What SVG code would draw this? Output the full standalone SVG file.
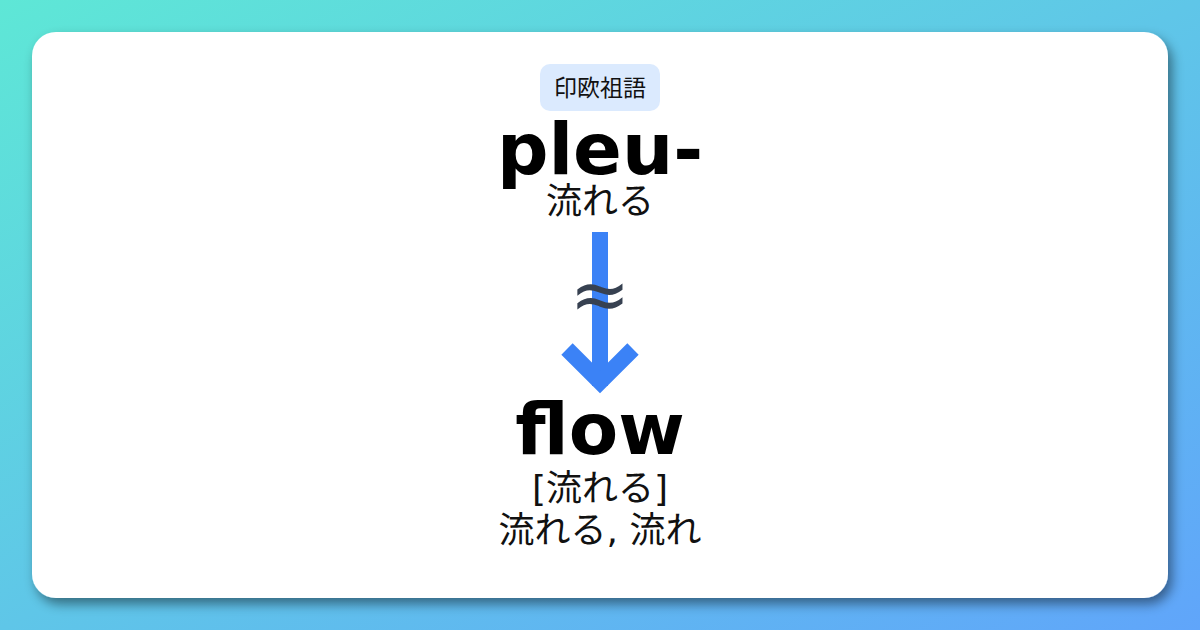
<svg xmlns="http://www.w3.org/2000/svg" width="1200" height="630" viewBox="0 0 1200 630">
<defs>
<linearGradient id="bg" x1="0" y1="0" x2="1" y2="1">
<stop offset="0" stop-color="#5ee7d6"/>
<stop offset="1" stop-color="#60a5fa"/>
</linearGradient>
<filter id="sh" x="-10%" y="-10%" width="120%" height="130%">
<feDropShadow dx="4" dy="6" stdDeviation="6" flood-color="#000" flood-opacity="0.45"/>
</filter>
<style>
.word{font-family:"DejaVu Sans",sans-serif;font-weight:bold;font-size:72px;fill:#000;text-anchor:middle}
.jp{font-family:"DejaVu Sans","Noto Sans CJK JP",sans-serif;fill:#111;text-anchor:middle}
</style>
</defs>
<rect width="1200" height="630" fill="url(#bg)"/>
<rect x="32" y="32" width="1136" height="566" rx="24" fill="#fff" filter="url(#sh)"/>
<g id="badge">
<rect x="540" y="64" width="120" height="47" rx="10" fill="#dbeafe"/>
<text class="jp" x="600" y="96" font-size="23">印欧祖語</text>
</g>
<g id="source">
<text class="word" x="600" y="174">pleu-</text>
<text class="jp" x="600" y="214" font-size="36">流れる</text>
</g>
<g id="connectors">
<line x1="600" y1="232" x2="600" y2="386" stroke="#3b82f6" stroke-width="16"/>
<polyline points="567,349 600,382 633,349" fill="none" stroke="#3b82f6" stroke-width="16"/>
<text x="600" y="319" font-family="DejaVu Sans,sans-serif" font-size="72" fill="#374151" text-anchor="middle">≈</text>
</g>
<g id="target">
<text class="word" x="600" y="454">flow</text>
<text class="jp" x="600" y="501" font-size="36">[流れる]</text>
<text class="jp" x="600" y="543" font-size="36">流れる, 流れ</text>
</g>
</svg>
